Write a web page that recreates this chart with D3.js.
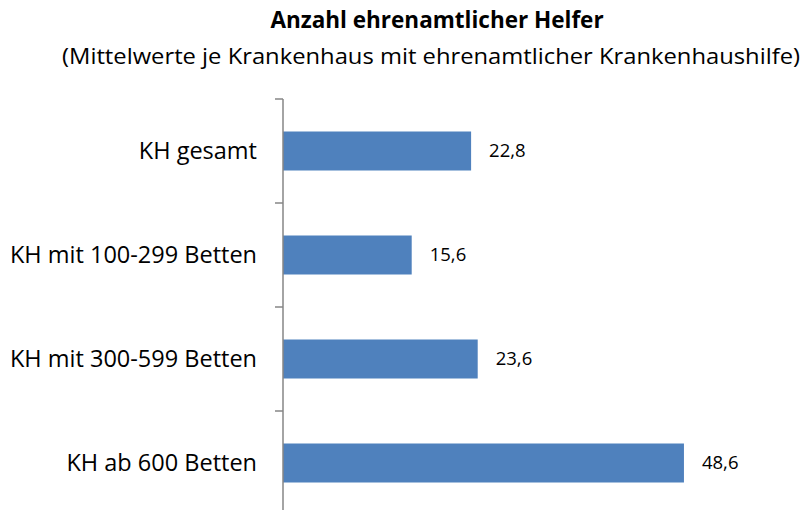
<!DOCTYPE html>
<html>
<head>
<meta charset="utf-8">
<script src="https://cdn.jsdelivr.net/npm/d3@7"></script>
<style>
  body { margin: 0; background: #fff; }
  svg { display: block; font-family: "Open Sans", "Noto Sans", sans-serif; }
</style>
</head>
<body>
<div id="chart"></div>
<script>
const categories = ["KH gesamt", "KH mit 100-299 Betten", "KH mit 300-599 Betten", "KH ab 600 Betten"]
const values = [22.8, 15.6, 23.6, 48.6]
const title = "Anzahl ehrenamtlicher Helfer"
const subtitle = "(Mittelwerte je Krankenhaus mit ehrenamtlicher Krankenhaushilfe)"

let width = 801, height = 510
let margin = { top: 99, left: 283 }

let svg = d3.select("#chart").append("svg")
    .attr("width", width)
    .attr("height", height)

let x = d3.scaleLinear()
    .domain([0, 50])
    .range([margin.left, margin.left + 412.5])

let y = d3.scaleBand()
    .domain(categories)
    .range([margin.top, margin.top + 416])
    .paddingInner(0.625)
    .paddingOuter(0.3125)

// titles
svg.append("text")
    .attr("x", 437).attr("y", 28)
    .attr("text-anchor", "middle")
    .attr("font-size", 22.5).attr("font-weight", "bold")
    .attr("fill", "#000")
    .text(title)

svg.append("text")
    .attr("x", 431).attr("y", 64)
    .attr("text-anchor", "middle")
    .attr("font-size", 22)
    .attr("textLength", 738)
    .attr("lengthAdjust", "spacingAndGlyphs")
    .attr("fill", "#000")
    .text(subtitle)

// bars
svg.selectAll("rect.bar")
    .data(values)
    .enter()
    .append("rect")
    .attr("class", "bar")
    .attr("x", x(0))
    .attr("y", (d, i) => y(categories[i]))
    .attr("width", d => x(d) - x(0))
    .attr("height", y.bandwidth())
    .attr("fill", "#4f81bd")

// value labels
svg.selectAll("text.val")
    .data(values)
    .enter()
    .append("text")
    .attr("class", "val")
    .attr("x", d => x(d) + 18)
    .attr("y", (d, i) => y(categories[i]) + y.bandwidth() / 2)
    .attr("dy", "0.35em")
    .attr("font-size", 18.5)
    .text(d => d3.format(".1f")(d).replace(".", ","))

// category axis, ticks between bands
let step = y.step()
let tickPos = d3.range(categories.length + 1).map(i => margin.top + i * step)

let axis = svg.append("g")
axis.append("line")
    .attr("x1", margin.left).attr("x2", margin.left)
    .attr("y1", margin.top).attr("y2", margin.top + 416)
    .attr("stroke", "#868686").attr("stroke-width", 1.5)
axis.selectAll("line.tick")
    .data(tickPos)
    .enter()
    .append("line")
    .attr("class", "tick")
    .attr("x1", margin.left - 8).attr("x2", margin.left)
    .attr("y1", d => d).attr("y2", d => d)
    .attr("stroke", "#868686").attr("stroke-width", 1.5)

axis.selectAll("text.cat")
    .data(categories)
    .enter()
    .append("text")
    .attr("class", "cat")
    .attr("x", margin.left - 26)
    .attr("y", d => y(d) + y.bandwidth() / 2)
    .attr("dy", "0.35em")
    .attr("text-anchor", "end")
    .attr("font-size", 23.5)
    .text(d => d)
</script>
</body>
</html>
